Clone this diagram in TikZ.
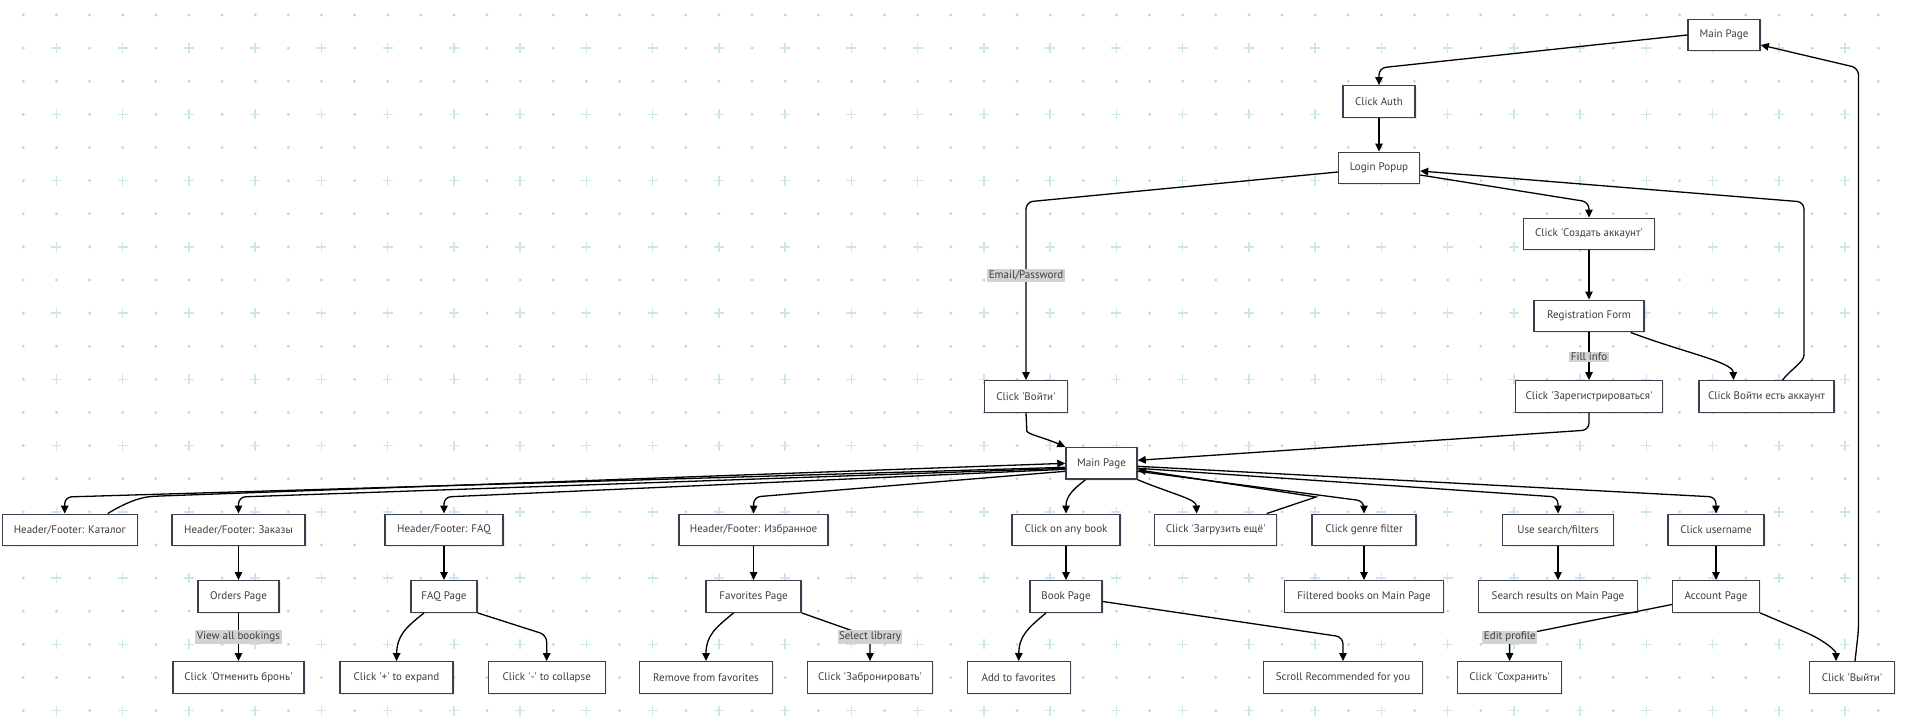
\documentclass[tikz,border=0pt]{standalone}
\usepackage{fontspec}
\setmainfont{PT Sans}
\usetikzlibrary{calc}
\usetikzlibrary{arrows.meta}
\usetikzlibrary{shadows}

\definecolor{gridplus}{RGB}{204,230,235}
\definecolor{griddot}{RGB}{196,214,219}
\definecolor{boxline}{RGB}{62,62,78}
\definecolor{boxtext}{RGB}{60,60,70}
\definecolor{lblfill}{RGB}{210,210,210}
\newcommand{\sqt}{\textquotesingle}

\begin{document}
\begin{tikzpicture}[x=1pt, y=-1pt,
  pagebox/.style={draw=boxline, fill=white, line width=1.4pt, minimum height=31.5pt, inner xsep=3pt,
    text=boxtext, font=\fontsize{11}{13}\selectfont,
    drop shadow={shadow xshift=1.5pt, shadow yshift=-1.5pt, opacity=.15}},
  flow/.style={line width=1.3pt, rounded corners=7pt, -{Triangle[length=8pt,width=7.5pt]}},
  lbl/.style={fill=lblfill, inner xsep=1.5pt, inner ysep=1.5pt, text=boxtext, font=\fontsize{11}{13}\selectfont}]
\useasboundingbox (0,0) rectangle (1906,715);
\fill[white] (0,0) rectangle (1906,715);
\foreach \j in {0,2,...,20} {
 \foreach \i in {0,...,56}
  \fill[griddot] (23.3+33.125*\i,15+33.125*\j) circle[radius=1.6];
}
\foreach \j in {1,3,...,21} {
 \foreach \i in {0,2,...,56}
  \fill[griddot] (23.3+33.125*\i,15+33.125*\j) circle[radius=1.6];
 \foreach \i in {1,3,...,55}
  \draw[gridplus, line width=1.6pt] (23.3+33.125*\i,15+33.125*\j) ++(-5,0) --++(10,0) ++(-5,-5) --++(0,10);
}

\node[pagebox, minimum width=72pt] (mainTop) at (1724,35) {Main Page};
\node[pagebox, minimum width=72pt] (auth) at (1379,101.5) {Click Auth};
\node[pagebox, minimum width=81pt] (login) at (1379,168) {Login Popup};
\node[pagebox, minimum width=131pt] (create) at (1589,234) {Click \sqt Создать аккаунт\sqt};
\node[pagebox, minimum width=110pt] (regform) at (1589,316) {Registration Form};
\node[pagebox, minimum width=83pt] (enter) at (1026,396.5) {Click \sqt Войти\sqt};
\node[pagebox, minimum width=147pt] (register) at (1589,396.5) {Click \sqt Зарегистрироваться\sqt};
\node[pagebox, minimum width=135pt] (haveacc) at (1766.5,396.5) {Click Войти есть аккаунт};
\node[pagebox, minimum width=71pt] (main) at (1101.5,463.3) {Main Page};

\node[pagebox, minimum width=135pt] (catalog) at (69.7,530) {Header/Footer: Каталог};
\node[pagebox, minimum width=133pt] (orders) at (238.5,530) {Header/Footer: Заказы};
\node[pagebox, minimum width=118pt] (faq) at (444,530) {Header/Footer: FAQ};
\node[pagebox, minimum width=149pt] (favs) at (753.6,530) {Header/Footer: Избранное};
\node[pagebox, minimum width=108pt] (book) at (1066,530) {Click on any book};
\node[pagebox, minimum width=122pt] (more) at (1215.7,530) {Click \sqt Загрузить ещё\sqt};
\node[pagebox, minimum width=104pt] (genre) at (1364,530) {Click genre filter};
\node[pagebox, minimum width=111pt] (search) at (1558,530) {Use search/filters};
\node[pagebox, minimum width=96pt] (user) at (1716,530) {Click username};

\node[pagebox, minimum width=81pt] (ordersPage) at (238.5,596.5) {Orders Page};
\node[pagebox, minimum width=66pt] (faqPage) at (444,596.5) {FAQ Page};
\node[pagebox, minimum width=95pt] (favPage) at (753.6,596.5) {Favorites Page};
\node[pagebox, minimum width=72pt] (bookPage) at (1066,596.5) {Book Page};
\node[pagebox, minimum width=159pt] (filtered) at (1364,596.5) {Filtered books on Main Page};
\node[pagebox, minimum width=159pt] (results) at (1558,596.5) {Search results on Main Page};
\node[pagebox, minimum width=87pt] (account) at (1716,596.5) {Account Page};

\node[pagebox, minimum width=131pt] (cancel) at (238.5,677.5) {Click \sqt Отменить бронь\sqt};
\node[pagebox, minimum width=113pt] (expand) at (396.5,677.5) {Click \sqt+\sqt{} to expand};
\node[pagebox, minimum width=117pt] (collapse) at (546.7,677.5) {Click \sqt-\sqt{} to collapse};
\node[pagebox, minimum width=133pt] (remove) at (706,677.5) {Remove from favorites};
\node[pagebox, minimum width=125pt] (reserve) at (870,677.5) {Click \sqt Забронировать\sqt};
\node[pagebox, minimum width=103pt] (addfav) at (1018.7,677.5) {Add to favorites};
\node[pagebox, minimum width=159pt] (scroll) at (1343,677.5) {Scroll Recommended for you};
\node[pagebox, minimum width=104pt] (save) at (1509.6,677.5) {Click \sqt Сохранить\sqt};
\node[pagebox, minimum width=85pt] (logout) at (1852,677.5) {Click \sqt Выйти\sqt};

% login part
\draw[flow] (mainTop.west) -- (auth.north |- 0,68) -- (auth.north);
\draw[flow] (auth) -- (login);
\draw[flow] ([yshift=-4pt]login.west) -- (enter.north |- 0,202) -- (enter.north);
\draw[flow] ([yshift=-7pt]login.east) -- (create.north |- 0,202) -- (create.north);
\draw[flow] (create) -- (regform);
\draw[flow] (regform) -- (register);
\draw[flow] ($(regform.south east)+(-14,0)$) .. controls (1682,352) and (1733,362) .. ($(haveacc.north)+(-33,0)$);
\draw[flow] ($(haveacc.north)+(16,0)$) .. controls (1790,370) and (1804,362) .. (1804,348) -- (1804,202) -- ([yshift=-3pt]login.east);
\draw[flow] (enter.south) -- (1026.5,424) .. controls (1027,434) and (1045,438) .. (main.north west);
\draw[flow] (register.south) -- (register.south |- 0,430) -- ([yshift=3pt]main.east);

% main page
\draw[flow] ([yshift=-4pt]main.west) -- ($(catalog.north |- 0,497)+(-5,0)$) -- ($(catalog.north)+(-5,0)$);
\draw[flow] ($(catalog.north)+(38,0)$) .. controls (125,503) and (140,497) .. (160,496) -- (main.west);
\draw[flow] ([yshift=-5pt]main.west) -- (orders.north |- 0,497) -- (orders.north);
\draw[flow] ([yshift=-6pt]main.west) -- (faq.north |- 0,497) -- (faq.north);
\draw[flow] ([yshift=-8pt]main.west) -- (favs.north |- 0,497) -- (favs.north);
\draw[flow] ($(main.south)+(-16,0)$) .. controls (1072,490) and (1066,497) .. (book.north);
\draw[flow] (main.south east) .. controls (1175,495) and (1196,499) .. ($(more.north)+(-19,0)$);
\draw[flow, sharp corners] ($(more.north)+(51,0)$) -- (1316,497) -- ([yshift=-6.5pt]main.east);
\draw[flow] ([yshift=-8pt]main.east) -- (genre.north |- 0,501) -- (genre.north);
\draw[flow] ([yshift=-5pt]main.east) -- (search.north |- 0,497) -- (search.north);
\draw[flow] ([yshift=-3pt]main.east) -- (user.north |- 0,497) -- (user.north);

% pages
\draw[flow] (orders) -- (ordersPage);
\draw[flow] (faq) -- (faqPage);
\draw[flow] (favs) -- (favPage);
\draw[flow] (book) -- (bookPage);
\draw[flow] (genre) -- (filtered);
\draw[flow] (search) -- (results);
\draw[flow] (user) -- (account);

% actions
\draw[flow] (ordersPage) -- (cancel);
\draw[flow] ($(faqPage.south)+(-20,0)$) .. controls (405,628) and (397,636) .. (expand.north);
\draw[flow] (faqPage.south east) -- (collapse.north |- 0,635) -- (collapse.north);
\draw[flow] ($(favPage.south)+(-20,0)$) .. controls (715,628) and (706,636) .. (remove.north);
\draw[flow] (favPage.south east) -- (reserve.north |- 0,637) -- (reserve.north);
\draw[flow] ($(bookPage.south)+(-20,0)$) .. controls (1028,628) and (1019,636) .. (addfav.north);
\draw[flow] ([yshift=-5pt]bookPage.east) -- (scroll.north |- 0,637) -- (scroll.north);
\draw[flow] ([yshift=-8pt]account.west) -- (save.north |- 0,637) -- (save.north);
\draw[flow] (account.south east) -- (1805,632) .. controls (1822,640) and (1836,650) .. ($(logout.north)+(-16,0)$);
\draw[flow] ($(logout.north)+(3,0)$) -- (1858.5,630) -- (1858.5,68) -- ([yshift=-10pt]mainTop.east);

\node[lbl] (lEmail) at (1026,275.5) {Email/Password};
\node[lbl] (lFill) at (1589,357) {Fill info};
\node[lbl] (lView) at (238.5,637) {View all bookings};
\node[lbl] (lSelect) at (870,637) {Select library};
\node[lbl] (lEdit) at (1509.8,637) {Edit profile};
\end{tikzpicture}
\end{document}
